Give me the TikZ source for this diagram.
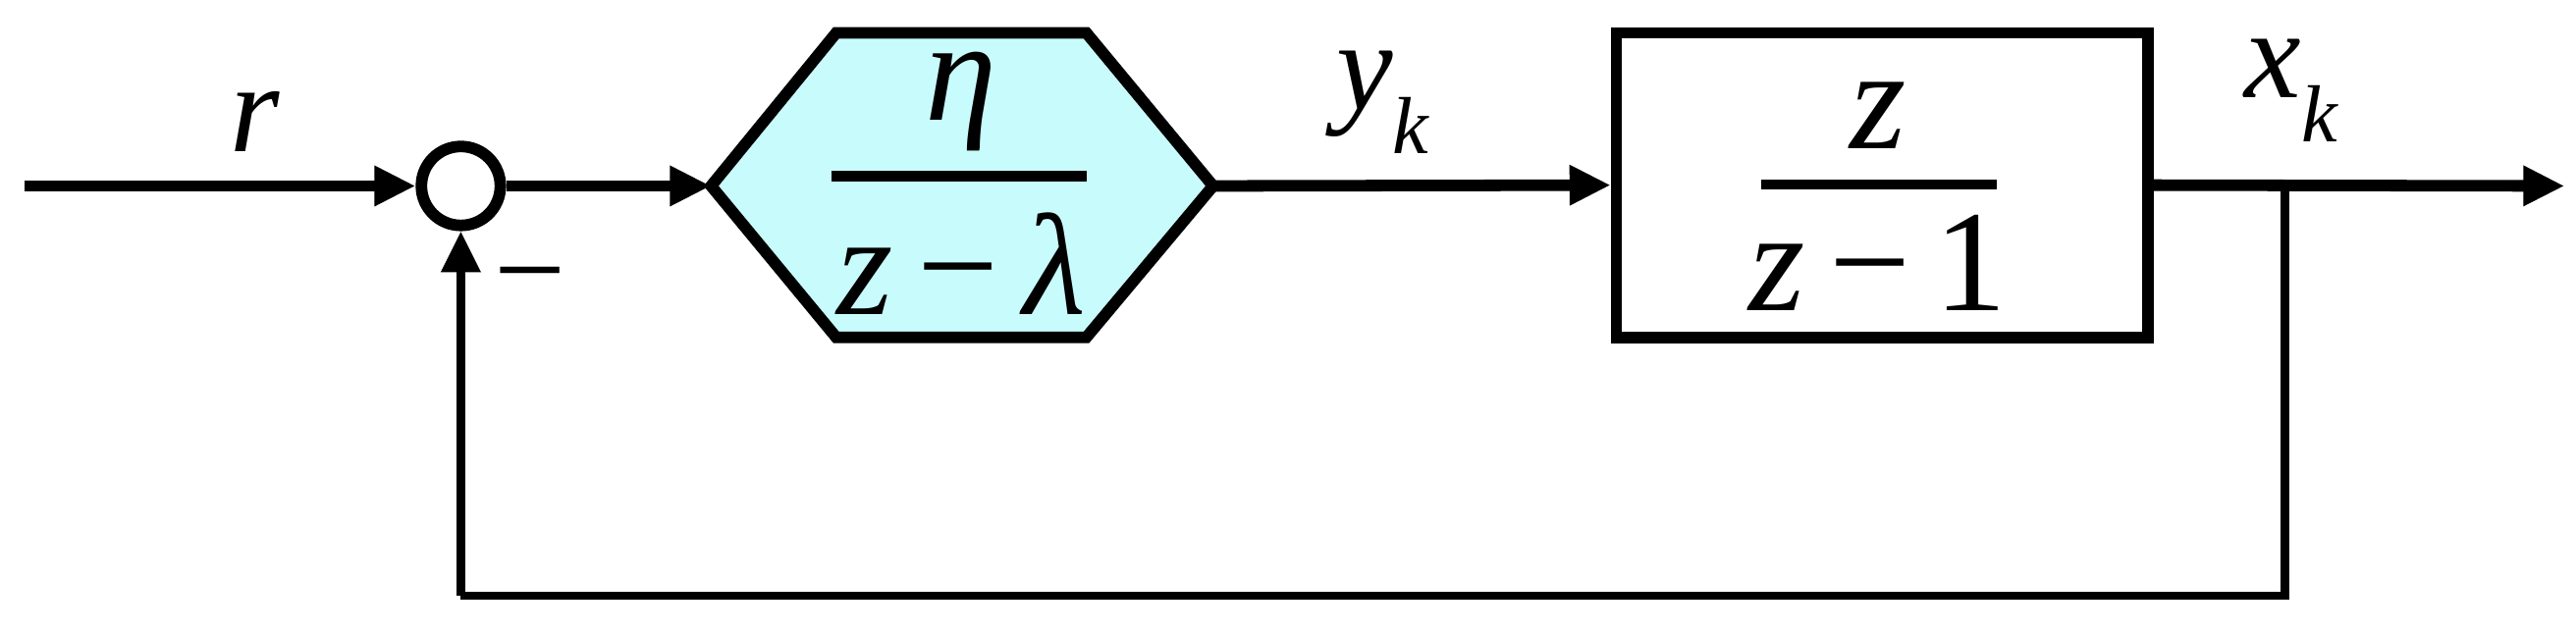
\documentclass[tikz,border=0pt]{standalone}
\usepackage{fontspec}
\setmainfont{Liberation Serif}
\usetikzlibrary{arrows.meta}
\begin{document}
\begin{tikzpicture}[x=0.02cm,y=-0.02cm,
  sig/.style={line width=4pt,-{Triangle[length=0.5cm,width=0.46cm]}},
  fb/.style={line width=3pt},
  big/.style={font=\fontsize{50}{54}\selectfont\itshape},
  lbl/.style={font=\fontsize{44}{48}\selectfont\itshape}]
\useasboundingbox (0,0) rectangle (1565,385);
\node[circle,draw,line width=4pt,minimum size=0.96cm,inner sep=0] (s) at (280,113) {};
\coordinate (in) at (15,113);
\draw[line width=4pt,fill={rgb,255:red,200;green,252;blue,252}] (432,113) coordinate (hl) -- (508,20) -- (660,20) -- (737,113) coordinate (hr) -- (660,205) -- (508,205) -- cycle;
\node (hex) at (584,113) {};
\draw[line width=3.5pt] (505,107) -- (660,107);
\node[big] (eta) at (584,62) {η};
\node[big] (den1) at (584,160) {z\,\upshape−\,\itshape λ};
\node[draw,line width=4pt,minimum width=6.46cm,minimum height=3.7cm,inner sep=0] (box) at (1143.5,112.5) {};
\draw[line width=3.5pt] (1070,112) -- (1213,112);
\node[big] (num2) at (1141,70) {z};
\node[big] (den2) at (1141,160) {z\,\upshape−\,1};
\coordinate (out) at (1558,113);
\coordinate (tap) at (1388,113);
\coordinate (c1) at (1388,362);
\coordinate (c2) at (280,362);
\draw[sig] (in) -- (s.west);
\draw[sig] (s.east) -- (hl);
\draw[sig] (hr) -- (box.west);
\draw[sig] (box.east) -- (out);
\draw[fb] (tap) -- (c1) -- (c2);
\draw[fb,-{Triangle[length=0.5cm,width=0.46cm]}] (c2) -- (s.south);
\node[lbl] (r) at (155,74) {r};
\node[lbl] (yk) at (840,62) {y\raisebox{-0.35em}{\fontsize{28}{30}\selectfont k}};
\node[lbl] (xk) at (1392,55) {x\raisebox{-0.35em}{\fontsize{28}{30}\selectfont k}};
\node[font=\fontsize{44}{48}\selectfont] (minus) at (322,176) {−};
\end{tikzpicture}
\end{document}
